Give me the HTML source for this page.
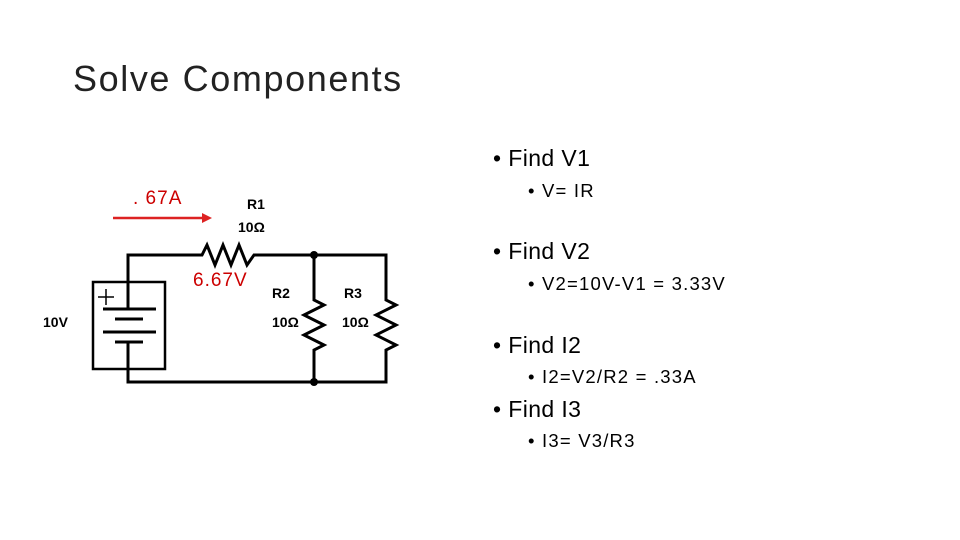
<!DOCTYPE html>
<html><head><style>
body{margin:0;width:960px;height:540px;background:#fff;position:relative;overflow:hidden;font-family:"Liberation Sans",sans-serif;}
.t{position:absolute;white-space:nowrap;color:#000;}
.b1{font-size:23px;letter-spacing:0.4px;}
.b2{font-size:18.5px;letter-spacing:1.2px;}
</style></head><body>
<div class="t" style="left:73px;top:58px;font-size:36px;color:#222;letter-spacing:1.6px;">Solve Components</div>
<div class="t b1" style="left:493px;top:145px;">• Find V1</div>
<div class="t b2" style="left:528px;top:180px;">• V= IR</div>
<div class="t b1" style="left:493px;top:238px;">• Find V2</div>
<div class="t b2" style="left:528px;top:273px;">• V2=10V-V1 = 3.33V</div>
<div class="t b1" style="left:493px;top:332px;">• Find I2</div>
<div class="t b2" style="left:528px;top:366px;">• I2=V2/R2 = .33A</div>
<div class="t b1" style="left:493px;top:396px;">• Find I3</div>
<div class="t b2" style="left:528px;top:430px;">• I3= V3/R3</div>
<svg width="960" height="540" style="position:absolute;left:0;top:0">
<g stroke="#000" stroke-width="3" fill="none">
<polyline points="128,309 128,255 202,255 207,245 215,265 223,245 231,265 239,245 247,265 254,255 386,255 386,300 396,305 376,315 396,325 376,335 396,345 386,350 386,382 128,382 128,342"/>
<polyline points="314,255 314,300 324,305 304,315 324,325 304,335 324,345 314,350 314,382"/>
<rect x="93" y="282" width="72" height="87" stroke-width="2.5"/>
<line x1="103" y1="309" x2="156" y2="309"/>
<line x1="115" y1="319" x2="143" y2="319"/>
<line x1="103" y1="332" x2="156" y2="332"/>
<line x1="115" y1="342" x2="143" y2="342"/>
<line x1="98" y1="297" x2="114" y2="297" stroke-width="1.5"/>
<line x1="106" y1="289" x2="106" y2="305" stroke-width="1.5"/>
</g>
<circle cx="314" cy="255" r="4"/><circle cx="314" cy="382" r="4"/>
<line x1="113" y1="218" x2="204" y2="218" stroke="#d22" stroke-width="2.5"/>
<polygon points="212,218 202,213 202,223" fill="#d22"/>
<g font-family="Liberation Sans" font-weight="bold" font-size="14" fill="#000">
<text x="247" y="209">R1</text><text x="238" y="232">10Ω</text>
<text x="272" y="298">R2</text><text x="272" y="327">10Ω</text>
<text x="344" y="298">R3</text><text x="342" y="327">10Ω</text>
<text x="43" y="327">10V</text>
</g>
<g font-family="Liberation Sans" font-size="19" fill="#c00" letter-spacing="1">
<text x="133" y="204">. 67A</text>
<text x="193" y="286">6.67V</text>
</g>
</svg>
</body></html>
